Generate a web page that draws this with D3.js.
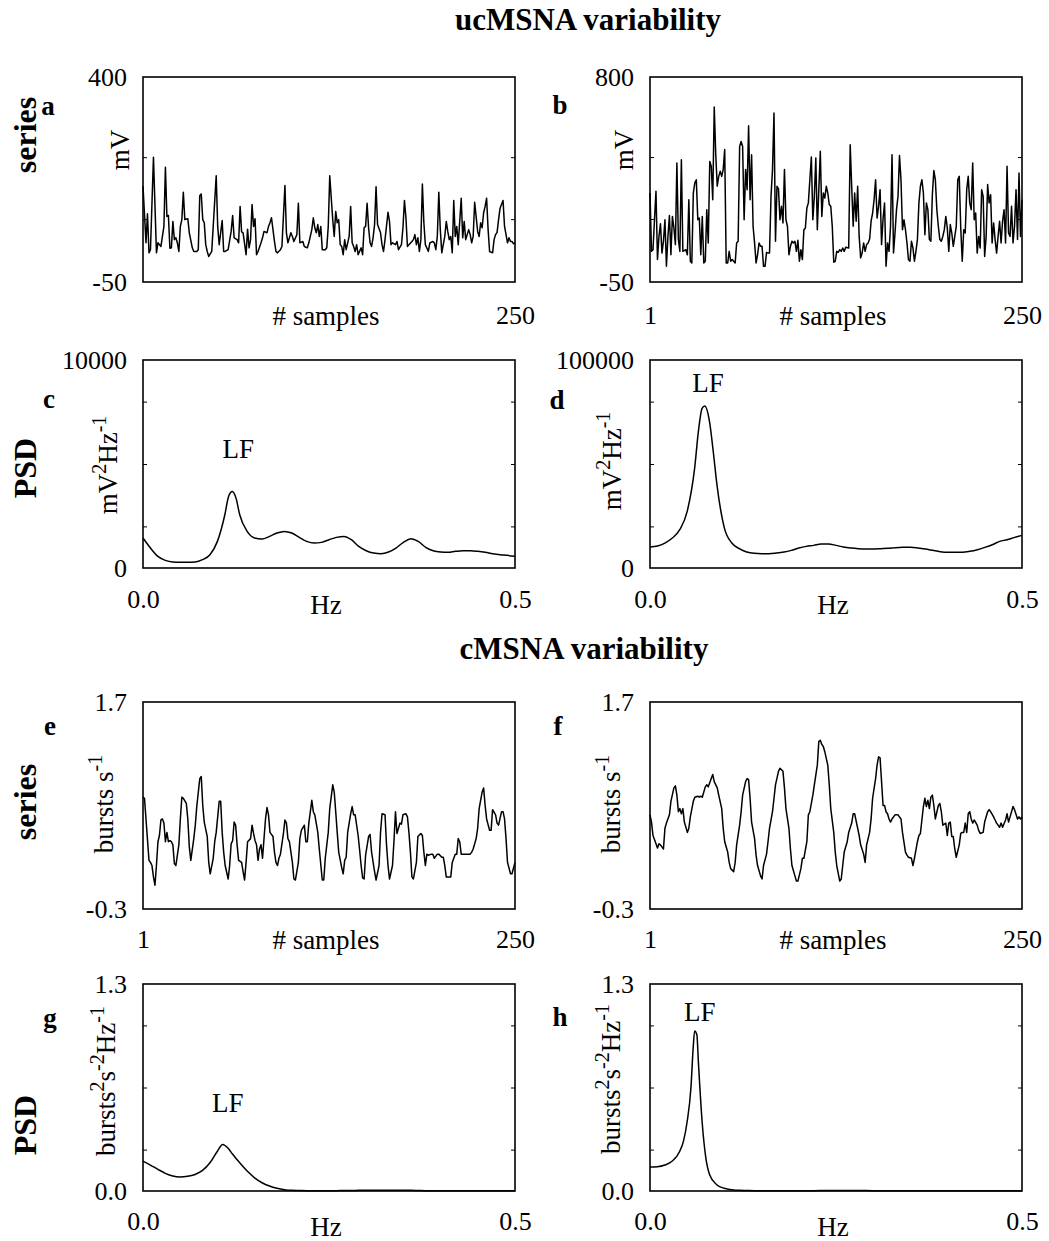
<!DOCTYPE html>
<html>
<head>
<meta charset="utf-8">
<script src="https://cdn.jsdelivr.net/npm/d3@7"></script>
<style>
  body { margin: 0; background: #fff; }
  svg { display: block; }
  text { font-family: "Liberation Serif", "Times New Roman", serif; fill: #000; }
</style>
</head>
<body>
<svg id="chart" width="1049" height="1241"></svg>
<script>
// ---- data ----
// series panels: [sample, value]
const seriesA = [[1,160],[3,36],[4,100],[5,14],[6,21],[8,224],[10,14],[11,36],[13,28],[15,72],[16,202],[17,94],[18,96],[19,24],[20,25],[21,83],[22,43],[23,47],[24,36],[25,17],[26,72],[27,87],[28,147],[29,87],[31,89],[32,58],[34,25],[35,17],[37,17],[38,21],[39,140],[40,143],[41,87],[42,80],[43,32],[44,17],[45,6],[47,17],[48,72],[50,183],[51,72],[52,32],[54,85],[55,17],[56,17],[58,21],[60,61],[61,96],[62,47],[64,43],[65,36],[66,116],[67,60],[68,58],[70,10],[71,66],[72,25],[73,43],[74,120],[75,72],[76,89],[77,10],[78,17],[80,36],[81,47],[82,61],[84,58],[85,72],[86,80],[87,91],[88,65],[89,39],[90,17],[91,14],[93,21],[94,28],[96,162],[97,58],[98,36],[100,58],[101,50],[102,39],[104,54],[105,123],[106,36],[108,39],[109,28],[111,25],[112,36],[114,65],[115,91],[116,69],[117,58],[118,76],[119,50],[120,72],[121,21],[123,21],[124,25],[125,72],[126,183],[128,87],[129,50],[130,105],[131,80],[132,87],[133,32],[134,28],[135,10],[136,43],[137,21],[139,50],[140,116],[141,36],[142,28],[143,17],[144,32],[145,10],[147,25],[148,10],[149,69],[150,72],[151,123],[152,69],[153,36],[154,28],[155,47],[156,76],[157,159],[158,76],[160,58],[161,32],[162,17],[163,43],[165,103],[166,83],[167,32],[168,36],[170,32],[171,39],[172,21],[174,32],[175,69],[176,129],[177,91],[178,28],[179,32],[181,39],[182,43],[183,54],[184,32],[185,47],[186,17],[187,43],[188,165],[189,80],[190,32],[192,17],[193,36],[195,39],[196,36],[197,21],[198,50],[199,147],[200,65],[201,14],[203,50],[204,83],[205,61],[206,43],[207,50],[208,14],[209,129],[210,50],[211,72],[212,32],[214,134],[215,47],[216,83],[217,43],[219,65],[220,54],[221,36],[222,50],[223,125],[225,61],[226,50],[227,80],[228,69],[229,102],[230,116],[231,134],[232,65],[233,17],[235,14],[236,43],[237,54],[238,59],[239,87],[240,112],[242,129],[243,72],[245,36],[246,47],[247,39],[248,39],[249,34],[250,36]];

const seriesB = [[1,319],[2,77],[3,84],[4,208],[5,326],[6,43],[7,139],[8,192],[9,70],[10,119],[11,208],[12,15],[13,139],[14,226],[15,63],[16,222],[17,174],[18,105],[19,443],[20,126],[21,77],[22,457],[23,77],[25,84],[26,63],[27,291],[28,36],[29,29],[30,319],[31,361],[32,374],[33,208],[34,215],[35,63],[36,222],[37,29],[38,36],[39,250],[40,112],[41,450],[42,430],[43,291],[44,676],[45,480],[46,347],[47,388],[48,409],[49,388],[50,416],[51,499],[52,29],[53,29],[54,77],[55,36],[56,43],[57,36],[58,29],[59,112],[60,119],[61,512],[62,533],[63,512],[64,208],[65,416],[66,333],[67,598],[68,291],[69,478],[70,181],[71,112],[72,29],[73,63],[74,112],[75,98],[76,98],[77,15],[78,15],[79,73],[80,70],[81,70],[82,305],[83,416],[84,651],[85,119],[86,347],[87,336],[88,208],[89,264],[90,195],[91,416],[92,208],[93,181],[94,63],[95,98],[96,119],[97,112],[98,119],[99,77],[100,123],[101,36],[102,84],[103,43],[104,167],[105,174],[106,257],[107,278],[108,374],[109,468],[110,208],[111,305],[112,464],[113,167],[114,333],[115,492],[116,222],[117,319],[118,298],[119,347],[120,319],[121,271],[122,264],[123,181],[124,32],[125,36],[126,77],[127,73],[128,84],[129,77],[130,91],[131,77],[132,94],[134,91],[135,519],[136,347],[137,181],[138,319],[139,202],[140,347],[141,139],[142,50],[143,70],[144,112],[145,77],[146,105],[147,112],[148,128],[149,202],[150,236],[151,291],[152,374],[153,215],[154,264],[155,333],[156,105],[157,211],[158,278],[159,15],[160,112],[161,77],[162,181],[163,478],[164,70],[165,153],[166,250],[167,305],[168,474],[169,374],[170,167],[171,208],[172,167],[173,112],[174,43],[175,36],[176,119],[177,91],[178,36],[179,77],[180,126],[181,278],[182,347],[183,374],[184,319],[185,146],[186,278],[187,250],[188,126],[189,119],[190,312],[191,412],[192,374],[193,250],[194,181],[195,126],[196,119],[197,139],[198,167],[199,222],[200,174],[201,77],[202,188],[203,153],[204,98],[205,139],[206,181],[207,374],[208,388],[209,174],[210,36],[211,167],[212,153],[213,333],[214,388],[215,278],[216,250],[217,443],[218,208],[219,236],[220,70],[221,139],[222,91],[223,333],[224,305],[225,56],[226,139],[227,354],[228,278],[229,312],[230,112],[231,195],[232,126],[233,70],[234,139],[235,202],[236,112],[237,202],[238,250],[239,112],[240,430],[241,153],[242,139],[243,264],[244,112],[245,181],[246,333],[247,126],[248,402],[249,139],[250,291]];

const seriesE = [[1,0.78],[2,0.77],[3,0.57],[5,0.17],[6,0.15],[7,0.12],[8,0.01],[9,-0.07],[10,0.12],[11,0.35],[12,0.41],[13,0.56],[14,0.57],[15,0.53],[16,0.35],[17,0.44],[18,0.35],[19,0.36],[20,0.35],[21,0.32],[22,0.14],[23,0.12],[25,0.32],[26,0.57],[27,0.78],[28,0.77],[30,0.72],[31,0.57],[32,0.30],[33,0.17],[35,0.38],[36,0.51],[37,0.69],[39,0.96],[40,0.98],[41,0.70],[42,0.54],[44,0.40],[45,0.15],[46,0.04],[48,0.19],[49,0.35],[50,0.44],[52,0.74],[53,0.74],[54,0.44],[55,0.25],[56,0.12],[58,-0.01],[59,0.12],[60,0.33],[61,0.36],[62,0.54],[63,0.51],[64,0.32],[65,0.17],[67,0.15],[68,0.06],[69,-0.02],[70,0.15],[71,0.35],[73,0.38],[74,0.51],[75,0.43],[76,0.36],[77,0.32],[78,0.17],[79,0.28],[80,0.32],[81,0.19],[83,0.57],[84,0.68],[85,0.61],[86,0.44],[88,0.40],[89,0.25],[90,0.15],[91,0.12],[92,0.19],[93,0.23],[95,0.43],[96,0.56],[97,0.53],[98,0.38],[99,0.35],[101,0.15],[102,-0.01],[103,-0.02],[105,0.15],[106,0.38],[107,0.46],[109,0.51],[110,0.35],[111,0.35],[112,0.53],[114,0.75],[115,0.64],[116,0.61],[118,0.44],[119,0.28],[121,-0.02],[122,-0.02],[123,0.19],[125,0.44],[126,0.67],[128,0.90],[129,0.83],[130,0.64],[131,0.44],[132,0.25],[134,0.10],[135,0.04],[136,0.17],[137,0.20],[138,0.44],[140,0.62],[141,0.69],[142,0.61],[143,0.61],[145,0.41],[146,0.27],[147,0.12],[148,0.00],[149,-0.01],[150,0.22],[152,0.40],[153,0.42],[154,0.25],[156,0.06],[157,-0.02],[159,0.12],[160,0.44],[161,0.62],[163,0.61],[164,0.32],[165,0.12],[166,-0.01],[168,0.12],[169,0.36],[170,0.64],[171,0.43],[173,0.53],[174,0.52],[175,0.61],[177,0.62],[178,0.59],[179,0.44],[180,0.25],[181,0.01],[182,-0.01],[184,0.15],[185,0.40],[187,0.43],[188,0.41],[189,0.25],[190,0.12],[191,0.23],[192,0.22],[194,0.23],[195,0.23],[196,0.19],[198,0.23],[199,0.23],[201,0.20],[202,0.20],[203,0.12],[204,0.01],[206,0.01],[207,0.01],[208,0.15],[210,0.23],[211,0.23],[212,0.38],[213,0.35],[214,0.23],[215,0.23],[217,0.23],[218,0.23],[220,0.23],[221,0.25],[222,0.28],[224,0.38],[225,0.48],[226,0.67],[228,0.83],[229,0.87],[230,0.70],[231,0.57],[233,0.46],[234,0.46],[235,0.66],[237,0.61],[238,0.53],[239,0.51],[241,0.64],[242,0.64],[243,0.57],[244,0.38],[245,0.15],[247,0.04],[248,0.04],[250,0.15]];

const seriesF = [[1,0.61],[2,0.54],[3,0.41],[5,0.33],[6,0.29],[7,0.33],[8,0.32],[10,0.28],[11,0.48],[12,0.53],[14,0.61],[15,0.74],[17,0.87],[18,0.89],[19,0.80],[20,0.64],[21,0.67],[22,0.62],[23,0.67],[24,0.54],[26,0.44],[27,0.48],[28,0.59],[30,0.74],[31,0.78],[33,0.79],[34,0.78],[35,0.79],[36,0.78],[38,0.88],[39,0.90],[40,0.88],[42,0.96],[43,1.00],[44,0.93],[46,0.87],[47,0.80],[49,0.67],[50,0.48],[51,0.35],[53,0.25],[54,0.15],[55,0.09],[57,0.06],[58,0.15],[59,0.32],[61,0.51],[62,0.64],[63,0.80],[65,0.93],[66,0.96],[67,0.95],[68,0.77],[69,0.54],[71,0.38],[72,0.22],[73,0.12],[75,0.02],[76,-0.01],[77,0.12],[79,0.23],[80,0.35],[81,0.48],[83,0.64],[84,0.77],[85,0.90],[87,1.03],[88,1.06],[90,1.03],[91,0.87],[92,0.67],[94,0.48],[95,0.28],[96,0.12],[98,0.02],[99,-0.03],[100,-0.03],[102,0.09],[103,0.19],[104,0.19],[106,0.35],[107,0.61],[108,0.64],[110,0.80],[111,0.90],[113,1.09],[114,1.32],[115,1.33],[116,1.29],[117,1.27],[118,1.22],[120,1.09],[121,0.90],[122,0.67],[124,0.44],[125,0.25],[126,0.12],[128,-0.03],[129,-0.01],[130,0.12],[131,0.25],[133,0.35],[134,0.44],[136,0.53],[137,0.62],[138,0.62],[140,0.48],[141,0.41],[142,0.32],[144,0.23],[145,0.15],[146,0.32],[148,0.44],[149,0.57],[150,0.77],[152,0.96],[153,1.09],[154,1.17],[155,1.16],[156,0.93],[157,0.70],[158,0.70],[159,0.64],[160,0.62],[161,0.57],[162,0.54],[163,0.57],[165,0.61],[166,0.61],[167,0.61],[169,0.57],[170,0.44],[172,0.25],[173,0.22],[174,0.20],[176,0.19],[177,0.12],[178,0.19],[180,0.35],[181,0.41],[182,0.43],[184,0.69],[185,0.77],[186,0.69],[187,0.75],[188,0.67],[189,0.78],[190,0.80],[191,0.70],[192,0.57],[194,0.70],[195,0.72],[196,0.64],[197,0.51],[199,0.53],[200,0.41],[201,0.53],[202,0.54],[203,0.40],[204,0.40],[205,0.28],[206,0.20],[208,0.32],[209,0.43],[210,0.44],[211,0.44],[212,0.53],[213,0.44],[214,0.62],[215,0.64],[216,0.57],[217,0.53],[218,0.56],[220,0.51],[221,0.46],[222,0.43],[224,0.44],[225,0.54],[227,0.64],[228,0.66],[229,0.64],[231,0.59],[232,0.56],[233,0.53],[235,0.49],[236,0.53],[237,0.49],[239,0.56],[240,0.62],[241,0.54],[242,0.59],[243,0.64],[244,0.69],[245,0.66],[247,0.57],[248,0.59],[249,0.57],[250,0.59]];

// PSD panels: frequency (Hz) and power
const freqC = [0,0.01,0.02,0.03,0.04,0.05,0.06,0.07,0.08,0.09,0.10,0.11,0.115,0.12,0.125,0.13,0.14,0.15,0.16,0.17,0.18,0.19,0.20,0.21,0.22,0.23,0.24,0.25,0.26,0.27,0.28,0.29,0.30,0.31,0.32,0.33,0.34,0.35,0.36,0.37,0.38,0.39,0.40,0.41,0.42,0.43,0.44,0.45,0.46,0.47,0.48,0.49,0.50];
const psdC = [1440,960,560,368,288,272,272,288,400,640,1280,2560,3440,3680,3360,2560,1760,1440,1392,1520,1680,1760,1680,1472,1280,1200,1232,1360,1472,1520,1360,1040,832,720,688,768,960,1232,1408,1280,992,832,768,752,800,832,832,800,752,688,640,608,560];

const freqD = [0,0.01,0.02,0.03,0.04,0.05,0.06,0.065,0.07,0.0735,0.08,0.085,0.09,0.10,0.11,0.12,0.13,0.14,0.15,0.16,0.17,0.18,0.19,0.20,0.21,0.22,0.23,0.24,0.25,0.26,0.27,0.28,0.29,0.30,0.31,0.32,0.33,0.34,0.35,0.36,0.37,0.38,0.39,0.40,0.41,0.42,0.43,0.44,0.45,0.46,0.47,0.48,0.49,0.50];
const psdD = [10080,10560,12000,14400,18400,27200,48000,65600,76800,77900,70400,56000,40000,19200,12000,9280,7680,7040,6880,6880,7200,7680,8480,9600,10400,10880,11520,11520,10880,10080,9600,9280,9120,9120,9280,9440,9760,9920,9920,9600,9120,8480,7840,7520,7520,7520,8000,8800,9920,11200,12800,13600,14720,15680];

const freqG = [0,0.01,0.02,0.03,0.04,0.05,0.06,0.07,0.08,0.09,0.10,0.107,0.115,0.12,0.13,0.14,0.15,0.16,0.17,0.18,0.19,0.20,0.21,0.22,0.23,0.24,0.25,0.26,0.27,0.28,0.29,0.30,0.31,0.32,0.33,0.34,0.35,0.36,0.37,0.38,0.39,0.40,0.41,0.42,0.43,0.44,0.45,0.46,0.47,0.48,0.49,0.50];
const psdG = [0.188,0.163,0.136,0.111,0.094,0.088,0.092,0.104,0.129,0.177,0.25,0.292,0.265,0.234,0.177,0.125,0.083,0.052,0.031,0.017,0.008,0.004,0.003,0.002,0.002,0.002,0.002,0.002,0.003,0.003,0.004,0.004,0.005,0.005,0.005,0.005,0.004,0.004,0.003,0.002,0.002,0.002,0.002,0.002,0.002,0.002,0.001,0.001,0.001,0.001,0.001,0.001];

const freqH = [0,0.01,0.02,0.03,0.04,0.045,0.05,0.055,0.058,0.06,0.063,0.065,0.07,0.075,0.08,0.09,0.10,0.11,0.12,0.13,0.14,0.16,0.18,0.20,0.22,0.24,0.26,0.28,0.30,0.32,0.34,0.36,0.38,0.40,0.42,0.44,0.46,0.48,0.50];
const psdH = [0.150,0.152,0.163,0.188,0.25,0.313,0.438,0.647,0.897,1.005,0.981,0.814,0.438,0.209,0.104,0.038,0.017,0.008,0.004,0.003,0.002,0.002,0.002,0.002,0.002,0.003,0.003,0.003,0.002,0.002,0.002,0.002,0.001,0.001,0.001,0.001,0.001,0.001,0.001];

// axis end labels and inner tick values
const yLabelsA = ['-50', '400'];
const yLabelsB = ['-50', '800'];
const yLabelsC = ['0', '10000'];
const yLabelsD = ['0', '100000'];
const yLabelsEF = ['-0.3', '1.7'];
const yLabelsGH = ['0.0', '1.3'];
const innerTicksA = [88, 224];
const innerTicksB = [211, 468];
const innerTicksC = [2000, 5000, 8000];
const innerTicksD = [20000, 50000, 80000];
const innerTicksGH = [0.26, 0.65, 1.04];

// ---- layout ----
const W = 372;
const cols = [143, 650];
const rows = [[77, 282], [360, 568], [702, 909], [984, 1191]];
const xPad = [24, 22, 21, 21];
const serif = '"Liberation Serif", "Times New Roman", serif';

const unitMV = [['mV', 0]];
const unitPsdMV = [['mV', 0], ['2', 1], ['Hz', 0], ['-1', 1]];
const unitBursts = [['bursts s', 0], ['-1', 1]];
const unitPsdBursts = [['bursts', 0], ['2', 1], ['s', 0], ['-2', 1], ['Hz', 0], ['-1', 1]];

const panels = [
  {letter:'a', col:0, row:0, pts:seriesA, xDomain:[1,250], yDomain:[-50,400], yLabels:yLabelsA, xTicks:[250], xLabels:['250'], xTitle:'# samples', unit:unitMV, unitPos:[129,150], ticks:innerTicksA, letterPos:[48,115]},
  {letter:'b', col:1, row:0, pts:seriesB, xDomain:[1,250], yDomain:[-50,800], yLabels:yLabelsB, xTicks:[1,250], xLabels:['1','250'], xTitle:'# samples', unit:unitMV, unitPos:[633,150], ticks:innerTicksB, letterPos:[560,114]},
  {letter:'c', col:0, row:1, pts:d3.zip(freqC, psdC), smooth:true, xDomain:[0,0.5], yDomain:[0,10000], yLabels:yLabelsC, xTicks:[0,0.5], xLabels:['0.0','0.5'], xTitle:'Hz', unit:unitPsdMV, unitPos:[117,465], ticks:innerTicksC, letterPos:[49,408], lf:[0.128,5300]},
  {letter:'d', col:1, row:1, pts:d3.zip(freqD, psdD), smooth:true, xDomain:[0,0.5], yDomain:[0,100000], yLabels:yLabelsD, xTicks:[0,0.5], xLabels:['0.0','0.5'], xTitle:'Hz', unit:unitPsdMV, unitPos:[621,461], ticks:innerTicksD, letterPos:[557,409], lf:[0.078,84600]},
  {letter:'e', col:0, row:2, pts:seriesE, xDomain:[1,250], yDomain:[-0.3,1.7], yLabels:yLabelsEF, xTicks:[1,250], xLabels:['1','250'], xTitle:'# samples', unit:unitBursts, unitPos:[113,804], ticks:[], letterPos:[50,735]},
  {letter:'f', col:1, row:2, pts:seriesF, xDomain:[1,250], yDomain:[-0.3,1.7], yLabels:yLabelsEF, xTicks:[1,250], xLabels:['1','250'], xTitle:'# samples', unit:unitBursts, unitPos:[620,804], ticks:[], letterPos:[558,735]},
  {letter:'g', col:0, row:3, pts:d3.zip(freqG, psdG), smooth:true, xDomain:[0,0.5], yDomain:[0,1.3], yLabels:yLabelsGH, xTicks:[0,0.5], xLabels:['0.0','0.5'], xTitle:'Hz', unit:unitPsdBursts, unitPos:[115,1081], ticks:innerTicksGH, letterPos:[50,1027], lf:[0.114,0.496]},
  {letter:'h', col:1, row:3, pts:d3.zip(freqH, psdH), smooth:true, xDomain:[0,0.5], yDomain:[0,1.3], yLabels:yLabelsGH, xTicks:[0,0.5], xLabels:['0.0','0.5'], xTitle:'Hz', unit:unitPsdBursts, unitPos:[620,1079], ticks:innerTicksGH, letterPos:[560,1026], lf:[0.067,1.068]}
];

const svg = d3.select('#chart');
svg.append('rect').attr('width', 1049).attr('height', 1241).attr('fill', '#fff');

// section titles
svg.append('text').attr('x', 588).attr('y', 30).attr('text-anchor', 'middle')
  .attr('font-size', 31).attr('font-weight', 'bold').text('ucMSNA variability');
svg.append('text').attr('x', 584).attr('y', 659).attr('text-anchor', 'middle')
  .attr('font-size', 31).attr('font-weight', 'bold').text('cMSNA variability');

// row labels
[['series', 135], ['PSD', 468], ['series', 802], ['PSD', 1125]].forEach(([t, cy]) => {
  svg.append('text').attr('transform', `translate(36,${cy}) rotate(-90)`)
    .attr('text-anchor', 'middle').attr('font-size', 32).attr('font-weight', 'bold').text(t);
});

panels.forEach(p => {
  const x0 = cols[p.col];
  const [y0, y1] = rows[p.row];
  const x = d3.scaleLinear().domain(p.xDomain).range([x0, x0 + W]);
  const y = d3.scaleLinear().domain(p.yDomain).range([y1, y0]);
  const g = svg.append('g');

  const line = d3.line().x(d => x(d[0])).y(d => y(d[1]));
  if (p.smooth) line.curve(d3.curveMonotoneX);
  g.append('path').datum(p.pts).attr('d', line)
    .attr('fill', 'none').attr('stroke', '#000').attr('stroke-width', 1.5)
    .attr('stroke-linejoin', 'round');

  g.append('rect').attr('x', x0).attr('y', y0).attr('width', W).attr('height', y1 - y0)
    .attr('fill', 'none').attr('stroke', '#000').attr('stroke-width', 1.6);

  // small inner ticks on both frame sides
  g.append('g').attr('transform', `translate(${x0},0)`)
    .call(d3.axisRight(y).tickValues(p.ticks).tickSize(4).tickFormat(''))
    .call(s => s.select('.domain').remove());
  g.append('g').attr('transform', `translate(${x0 + W},0)`)
    .call(d3.axisLeft(y).tickValues(p.ticks).tickSize(4).tickFormat(''))
    .call(s => s.select('.domain').remove());

  // y end labels
  g.append('g').attr('transform', `translate(${x0},0)`)
    .call(d3.axisLeft(y).tickValues(p.yDomain).tickSize(0).tickPadding(16)
      .tickFormat((d, i) => p.yLabels[i]))
    .call(s => s.select('.domain').remove())
    .attr('font-size', 26).attr('font-family', serif);

  // x end labels
  g.append('g').attr('transform', `translate(0,${y1})`)
    .call(d3.axisBottom(x).tickValues(p.xTicks).tickSize(0).tickPadding(xPad[p.row])
      .tickFormat((d, i) => p.xLabels[i]))
    .call(s => s.select('.domain').remove())
    .attr('font-size', 26).attr('font-family', serif);

  const titleBase = y1 + xPad[p.row] + 19 + (p.xTitle === 'Hz' ? 5 : 0);
  g.append('text').attr('x', x0 + W / 2 - 3).attr('y', titleBase)
    .attr('text-anchor', 'middle').attr('font-size', 27).text(p.xTitle);

  // unit label (rotated, with superscripts)
  const ut = g.append('text')
    .attr('transform', `translate(${p.unitPos[0]},${p.unitPos[1]}) rotate(-90)`)
    .attr('text-anchor', 'middle').attr('font-size', 27);
  let raised = false;
  p.unit.forEach(([t, sup]) => {
    const ts = ut.append('tspan').text(t);
    if (sup && !raised) { ts.attr('dy', -11).attr('font-size', 20); raised = true; }
    else if (sup) { ts.attr('font-size', 20); }
    else if (raised) { ts.attr('dy', 11); raised = false; }
  });

  // panel letter
  g.append('text').attr('x', p.letterPos[0]).attr('y', p.letterPos[1])
    .attr('text-anchor', 'middle').attr('font-size', 27).attr('font-weight', 'bold').text(p.letter);

  if (p.lf) {
    g.append('text').attr('x', x(p.lf[0])).attr('y', y(p.lf[1]))
      .attr('text-anchor', 'middle').attr('font-size', 27).text('LF');
  }
});
</script>
</body>
</html>
